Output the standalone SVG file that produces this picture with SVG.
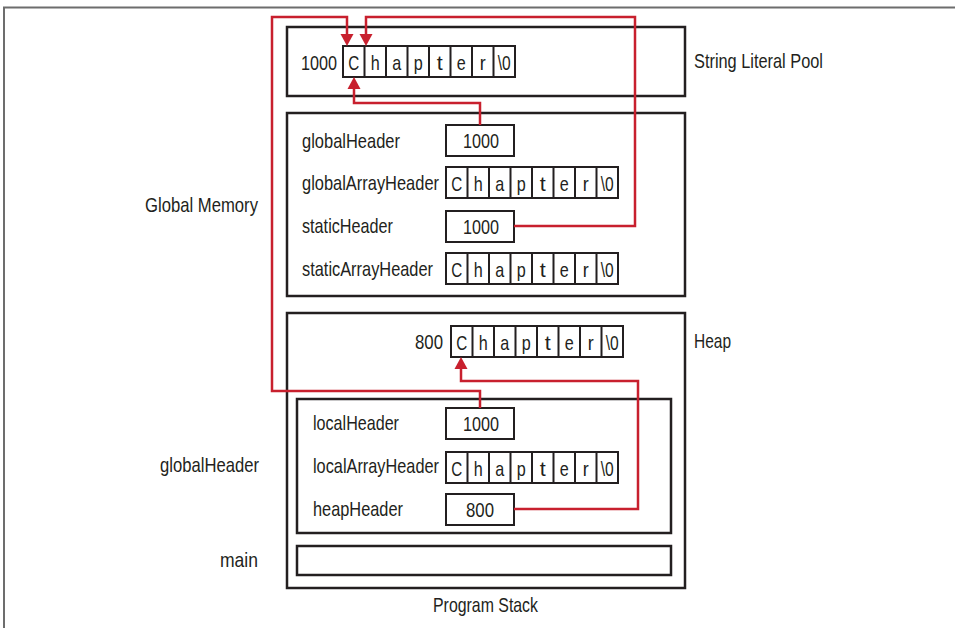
<svg xmlns="http://www.w3.org/2000/svg" width="955" height="628" viewBox="0 0 955 628">
<style>
text{font-family:"Liberation Sans",Arial,sans-serif;font-size:21px;fill:#231f20}
.box{fill:none;stroke:#231f20;stroke-width:2.5}
.cell{fill:#fff;stroke:#231f20;stroke-width:2}
.c{text-anchor:middle}
.wire{fill:none;stroke:#c8202e;stroke-width:2.5}
.head{fill:#c8202e}
.frame{fill:none;stroke:#6d6d6d;stroke-width:2}
</style>
<defs>
<g id="chapter">
<rect class="cell" x="0" y="0" width="172" height="31"/>
<path d="M21.5,0V31M43,0V31M64.5,0V31M86,0V31M107.5,0V31M129,0V31M150.5,0V31" stroke="#231f20" stroke-width="2"/>
<text class="c" x="10.75" y="24" textLength="11" lengthAdjust="spacingAndGlyphs">C</text>
<text class="c" x="32.25" y="24" textLength="9" lengthAdjust="spacingAndGlyphs">h</text>
<text class="c" x="53.75" y="24" textLength="9" lengthAdjust="spacingAndGlyphs">a</text>
<text class="c" x="75.25" y="24" textLength="9" lengthAdjust="spacingAndGlyphs">p</text>
<text class="c" x="96.75" y="24" textLength="6" lengthAdjust="spacingAndGlyphs">t</text>
<text class="c" x="118.25" y="24" textLength="9" lengthAdjust="spacingAndGlyphs">e</text>
<text class="c" x="139.75" y="24" textLength="6" lengthAdjust="spacingAndGlyphs">r</text>
<text class="c" x="161.25" y="24" textLength="13" lengthAdjust="spacingAndGlyphs">\0</text>
</g>
<rect id="val" class="cell" x="0" y="0" width="68" height="31"/>
</defs>

<path class="frame" d="M4,628V7.5H955"/>

<g id="string-literal-pool">
<rect class="box" x="287" y="27" width="398" height="69"/>
<text x="301" y="70" textLength="36" lengthAdjust="spacingAndGlyphs">1000</text>
<use href="#chapter" x="343" y="46"/>
<text x="694" y="68" textLength="129" lengthAdjust="spacingAndGlyphs">String Literal Pool</text>
</g>

<g id="global-memory">
<rect class="box" x="287" y="113" width="398" height="183"/>
<text x="145" y="212" textLength="113" lengthAdjust="spacingAndGlyphs">Global Memory</text>
<text x="302" y="148" textLength="98" lengthAdjust="spacingAndGlyphs">globalHeader</text>
<use href="#val" x="446" y="125"/>
<text x="463" y="148" textLength="36" lengthAdjust="spacingAndGlyphs">1000</text>
<text x="302" y="190" textLength="137" lengthAdjust="spacingAndGlyphs">globalArrayHeader</text>
<use href="#chapter" x="446" y="167"/>
<text x="302" y="233" textLength="91" lengthAdjust="spacingAndGlyphs">staticHeader</text>
<use href="#val" x="446" y="211"/>
<text x="463" y="234" textLength="36" lengthAdjust="spacingAndGlyphs">1000</text>
<text x="302" y="276" textLength="131" lengthAdjust="spacingAndGlyphs">staticArrayHeader</text>
<use href="#chapter" x="446" y="253"/>
</g>

<g id="heap-and-stack">
<rect class="box" x="287" y="313" width="398" height="275"/>
<text x="694" y="348" textLength="37" lengthAdjust="spacingAndGlyphs">Heap</text>
<text x="415" y="349" textLength="28" lengthAdjust="spacingAndGlyphs">800</text>
<use href="#chapter" x="451" y="326"/>
<text x="433" y="612" textLength="105" lengthAdjust="spacingAndGlyphs">Program Stack</text>
</g>

<g id="frame-globalHeader">
<rect class="box" x="297" y="399" width="374" height="134"/>
<text x="160" y="472" textLength="99" lengthAdjust="spacingAndGlyphs">globalHeader</text>
<text x="313" y="430" textLength="86" lengthAdjust="spacingAndGlyphs">localHeader</text>
<use href="#val" x="446" y="408"/>
<text x="463" y="431" textLength="36" lengthAdjust="spacingAndGlyphs">1000</text>
<text x="313" y="473" textLength="126" lengthAdjust="spacingAndGlyphs">localArrayHeader</text>
<use href="#chapter" x="446" y="452"/>
<text x="313" y="516" textLength="90" lengthAdjust="spacingAndGlyphs">heapHeader</text>
<use href="#val" x="446" y="494"/>
<text x="466" y="517" textLength="28" lengthAdjust="spacingAndGlyphs">800</text>
</g>

<g id="frame-main">
<rect class="box" x="297" y="546" width="374" height="29"/>
<text x="220" y="567" textLength="38" lengthAdjust="spacingAndGlyphs">main</text>
</g>

<g id="connectors">
<path class="wire" d="M480,125V103H354V88"/>
<polygon class="head" points="354,77 347.5,89 360.5,89"/>
<path class="wire" d="M514,226H635V17H366V35"/>
<polygon class="head" points="366,46 359.5,34 372.5,34"/>
<path class="wire" d="M480,408V391H272V17H347V35"/>
<polygon class="head" points="347,46 340.5,34 353.5,34"/>
<path class="wire" d="M514,509H638V381H461V368"/>
<polygon class="head" points="461,357 454.5,369 467.5,369"/>
</g>
</svg>
